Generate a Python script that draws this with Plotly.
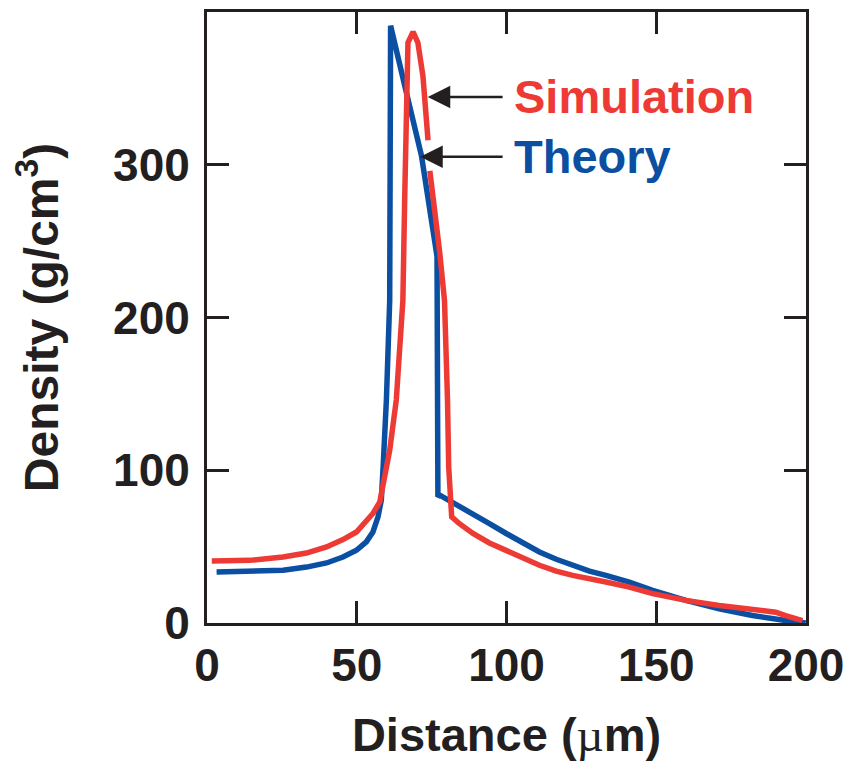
import plotly.graph_objects as go

# Theory (blue)
theory_x = [3.2, 14.3, 25.4, 33.2, 39.9, 45.4, 49.9, 53.2, 55.4, 57.1, 58.2, 58.8, 59.9, 61.0,
            61.2, 61.3, 66.0, 71.6, 76.8, 77.1, 77.1, 77.7, 83.2, 88.8, 94.3, 99.9, 105.4, 111.0,
            116.6, 122.1, 127.7, 133.2, 141.0, 148.8, 159.9, 171.0, 182.1, 193.2, 199.9]
theory_y = [33.4, 33.6, 34.5, 36.6, 39.3, 43.2, 47.6, 53.1, 59.6, 69.5, 80.4, 102.0, 146.0, 211.0,
            277.0, 391.0, 352.0, 306.0, 240.0, 146.0, 82.6, 83.7, 77.8, 71.7, 65.1, 58.6, 52.4, 46.5,
            41.7, 37.8, 34.0, 31.2, 26.8, 21.3, 14.8, 9.3, 4.9, 1.6, 0.0]

# Simulation (red); None marks the break in the curve near the Theory arrow
sim_x = [1.6, 14.3, 25.4, 33.2, 39.9, 45.4, 49.9, 53.2, 55.4, 57.7, 58.6, 61.0, 63.2, 65.4, 66.0,
         67.1, 68.8, 70.4, 72.1, 73.8, None, 74.4, 76.0, 77.7, 79.3, 79.9, 80.3, 80.7, 81.2, 81.7,
         84.3, 88.8, 94.3, 99.9, 105.4, 111.0, 116.6, 122.1, 133.2, 141.0, 148.8, 159.9, 171.0,
         182.1, 189.9, 193.2, 198.8]
sim_y = [40.6, 41.0, 43.2, 45.8, 49.8, 54.6, 59.6, 66.2, 71.7, 79.3, 89.0, 113.0, 146.0, 211.0, 277.0,
         380.0, 387.0, 380.0, 358.0, 316.0, None, 296.0, 271.0, 242.6, 211.0, 179.0, 146.0, 102.0, 76.0,
         69.5, 65.0, 58.6, 52.4, 47.6, 42.1, 37.8, 34.0, 31.2, 26.8, 23.5, 19.2, 14.8, 11.5,
         9.3, 7.1, 4.9, 1.6]

x_ticks = [0, 50, 100, 150, 200]
y_ticks = [0, 100, 200, 300]

RED = "#EE3A35"
BLUE = "#0B4FA2"
INK = "#231F20"
FONT = "Liberation Sans, Arial, Helvetica, sans-serif"

fig = go.Figure()
fig.add_trace(go.Scatter(x=theory_x, y=theory_y, mode="lines", name="Theory",
                         line=dict(color=BLUE, width=5.5), connectgaps=False))
fig.add_trace(go.Scatter(x=sim_x, y=sim_y, mode="lines", name="Simulation",
                         line=dict(color=RED, width=5.5), connectgaps=False))

# labels with arrows pointing at the curves
label_common = dict(xref="x", yref="y", axref="x", ayref="y", showarrow=True,
                    arrowhead=2, arrowsize=1.8, arrowwidth=2.5, arrowcolor=INK, standoff=0,
                    xanchor="left", yanchor="middle", borderpad=11, borderwidth=0)
fig.add_annotation(x=73.7, y=344.4, ax=98.7, ay=344.4, text="<b>Simulation</b>",
                   font=dict(family=FONT, size=47, color=RED), **label_common)
fig.add_annotation(x=71.2, y=305.2, ax=98.7, ay=305.2, text="<b>Theory</b>",
                   font=dict(family=FONT, size=47, color=BLUE), **label_common)

axis_common = dict(showline=True, linewidth=3, linecolor=INK, mirror="ticks", ticks="inside",
                   ticklen=22, tickwidth=3, tickcolor=INK, showgrid=False, zeroline=False,
                   tickfont=dict(family=FONT, size=46, color=INK))

fig.update_xaxes(range=[0, 200], tickvals=x_ticks, ticktext=[f"<b>{v}</b>" for v in x_ticks],
                 title=dict(text="<b>Distance (</b><span style='font-family:serif'>µ</span><b>m)</b>",
                            font=dict(family=FONT, size=47, color=INK), standoff=28),
                 ticklabelstandoff=0, **axis_common)
fig.update_yaxes(range=[0, 400], tickvals=y_ticks, ticktext=[f"<b>{v}</b>" for v in y_ticks],
                 title=dict(text="<b>Density (g/cm<sup>3</sup>)</b>",
                            font=dict(family=FONT, size=48, color=INK), standoff=40),
                 ticklabelstandoff=5, **axis_common)

fig.update_layout(width=849, height=769, margin=dict(l=207, r=43, t=12, b=146, autoexpand=False),
                  paper_bgcolor="white", plot_bgcolor="white", showlegend=False,
                  font=dict(family=FONT, color=INK))

fig.write_html("out.html", config={"displayModeBar": False},
               post_script="document.body.style.margin='0';document.body.style.overflow='hidden';")
